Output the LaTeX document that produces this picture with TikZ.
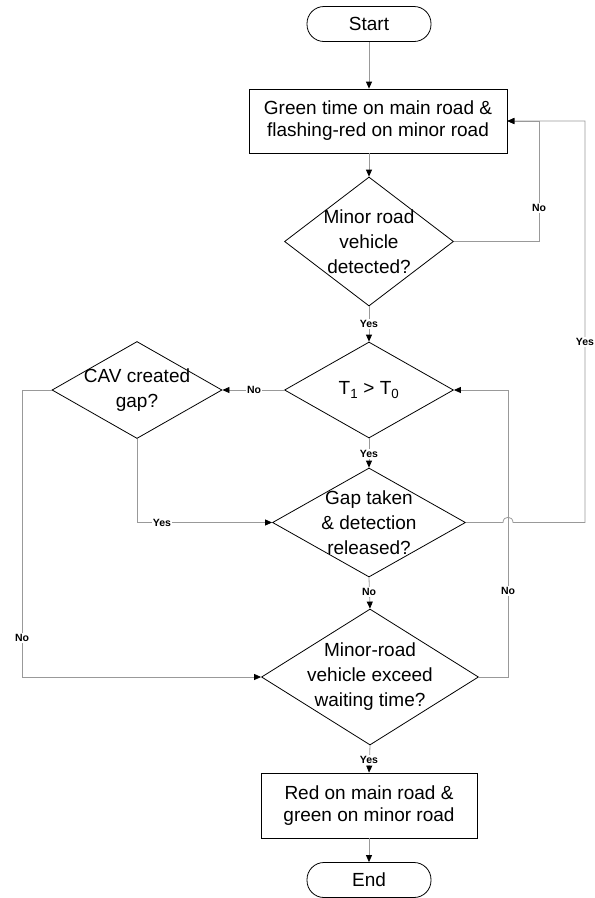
\documentclass[tikz,border=0pt]{standalone}
\usepackage{fontspec}
\setmainfont{Liberation Sans}
\usetikzlibrary{shapes.geometric,arrows.meta}
\tikzset{
  term/.style={draw=black,line width=0.8pt,rounded corners=17pt,minimum width=124pt,minimum height=35pt,inner sep=0pt,font=\fontsize{19}{22}\selectfont},
  procbox/.style={draw=black,line width=0.8pt,inner sep=0pt,align=center,font=\fontsize{19}{22}\selectfont},
  dec/.style={draw=black,line width=0.8pt,diamond,inner sep=0pt,shape aspect=1},
  dectext/.style={align=center,inner sep=0pt,font=\fontsize{19}{25}\selectfont},
  conn/.style={draw=black!40,line width=0.8pt},
  arr/.style={conn,-{Triangle[length=7pt,width=6pt,color=black]}},
  lab/.style={fill=white,inner sep=1pt,font=\fontsize{10.5}{12}\selectfont\bfseries}
}
\begin{document}
\begin{tikzpicture}[x=1pt,y=-1pt]
\useasboundingbox (0,0) rectangle (595,898);

% nodes
\node[term] (start) at (369,24) {Start};
\node[procbox,minimum width=258pt,minimum height=64pt] (b1) at (378,121) {Green time on main road \&\\flashing-red on minor road};

\node[dec,minimum width=169pt,minimum height=129pt] (d1) at (369,241.5) {};
\node[dectext] (t1) at (d1.center) {Minor road\\vehicle\\detected?};

\node[dec,minimum width=169pt,minimum height=96pt] (d2) at (369,390) {};
\node[dectext] (t2) at (d2.center) {T\textsubscript{1} > T\textsubscript{0}};

\node[dec,minimum width=170pt,minimum height=97pt] (d3) at (137,390) {};
\node[dectext] (t3) at (d3.center) {CAV created\\gap?};

\node[dec,minimum width=193pt,minimum height=109pt] (d4) at (369,522.5) {};
\node[dectext] (t4) at (d4.center) {Gap taken\\\& detection\\released?};

\node[dec,minimum width=217pt,minimum height=136pt] (d5) at (370,677) {};
\node[dectext] (t5) at (d5.center) {Minor-road\\vehicle exceed\\waiting time?};

\node[procbox,minimum width=216pt,minimum height=65pt] (b2) at (369,805.5) {Red on main road \&\\green on minor road};
\node[term] (end) at (369,880) {End};

% helper coordinates
\coordinate (r1) at (539,241.5);
\coordinate (r1t) at (539,121);
\coordinate (l3) at (22,390);
\coordinate (l3b) at (22,677);
\coordinate (y3) at (137,522.5);
\coordinate (n5) at (508,677);
\coordinate (n5t) at (508,390);
\coordinate (h1) at (503,522.5);
\coordinate (h2) at (513,522.5);
\coordinate (r4) at (585,522.5);
\coordinate (r4t) at (585,121);

% connectors
\draw[arr] (start.south) -- (start.south |- b1.north);
\draw[arr] (b1.south -| d1.north) -- (d1.north);
\draw[arr] (d1.east) -- (r1) -- (r1t) -- (b1.east);
\draw[arr] (d1.south) -- (d2.north);
\draw[arr] (d2.west) -- (d3.east);
\draw[arr] (d2.south) -- (d4.north);
\draw[arr] (d3.south) -- (y3) -- (d4.west);
\draw[arr] (d3.west) -- (l3) -- (l3b) -- (d5.west);
\draw[arr] (d4.south) -- (d5.north);
\draw[arr] (d4.east) -- (h1) .. controls (503,515.5) and (513,515.5) .. (h2) -- (r4) -- (r4t) -- (b1.east);
\draw[arr] (d5.east) -- (n5) -- (n5t) -- (d2.east);
\draw[arr] (d5.south) -- (b2.north);
\draw[arr] (b2.south) -- (end.north);

% labels
\node[lab] (lno1) at (539,208) {No};
\node[lab] (lyes1) at (369,324) {Yes};
\node[lab] (lno2) at (254,390) {No};
\node[lab] (lyes2) at (369,454) {Yes};
\node[lab] (lyes3) at (162,522.5) {Yes};
\node[lab] (lno3) at (22,638) {No};
\node[lab] (lno4) at (369,592) {No};
\node[lab] (lyes4) at (585,342) {Yes};
\node[lab] (lno5) at (508,591) {No};
\node[lab] (lyes5) at (369,760) {Yes};
\end{tikzpicture}
\end{document}
